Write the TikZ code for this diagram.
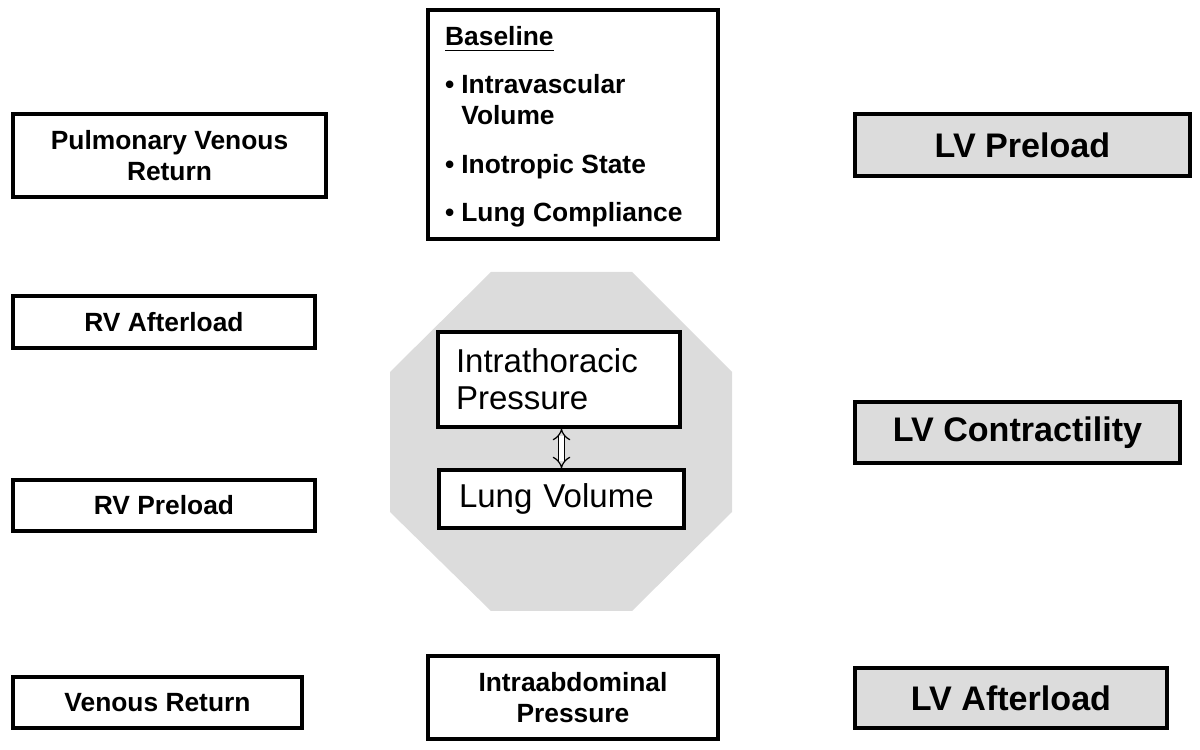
\documentclass[tikz,border=0pt]{standalone}
\usepackage{fontspec}
\setmainfont{Liberation Sans}
\usetikzlibrary{arrows.meta}

\definecolor{panelgray}{HTML}{DCDCDC}
\newcommand{\smallbold}{\fontsize{7.5}{8.8}\selectfont\bfseries}
\newcommand{\bigbold}{\fontsize{9.7}{11}\selectfont\bfseries}
\newcommand{\midtext}{\fontsize{9.4}{10.5}\selectfont}
\newcommand{\bdot}{\makebox[4.6pt][l]{\textbullet}}

\begin{document}
\begin{tikzpicture}[
    box/.style={draw, line width=0.9pt, fill=white, align=center, inner sep=0pt, font=\smallbold},
    lvbox/.style={draw, line width=0.9pt, fill=panelgray, inner sep=0pt, font=\bigbold},
    inbox/.style={draw, line width=0.9pt, fill=white, align=left, inner ysep=0pt, font=\midtext},
    dblarrow/.style={double, double distance=1.4pt, line width=0.35pt, {Implies[length=3.2pt]}-{Implies[length=3.2pt]}}
]
    \useasboundingbox (0,0) rectangle (12,7.5);

    % octagon behind the two middle boxes
    \fill[panelgray] (4.91,4.78) -- (6.32,4.78) -- (7.32,3.78) -- (7.32,2.38)
        -- (6.32,1.39) -- (4.91,1.39) -- (3.90,2.38) -- (3.90,3.78) -- cycle;

    % left column
    \node[box, minimum width=3.13cm, minimum height=0.83cm] (pvr) at (1.695,5.945) {Pulmonary Venous\\Return};
    \node[box, minimum width=3.02cm, minimum height=0.52cm] (rva) at (1.64,4.28) {RV Afterload};
    \node[box, minimum width=3.02cm, minimum height=0.51cm] (rvp) at (1.64,2.445) {RV Preload};
    \node[box, minimum width=2.89cm, minimum height=0.51cm] (vr) at (1.575,0.475) {Venous Return};

    % middle column
    \node[box, minimum width=2.90cm, minimum height=2.29cm] (base) at (5.73,6.255) {};
    \node[anchor=north west, align=left, inner sep=0pt, font=\smallbold] (basetext) at (4.445,7.245)
        {\underline{Baseline}\\[5pt]
         \bdot Intravascular\\
         \hspace*{4.6pt}Volume\\[5pt]
         \bdot Inotropic State\\[5pt]
         \bdot Lung Compliance};
    \node[inbox, text width=2.06cm, inner xsep=0.18cm, minimum height=0.95cm] (itp) at (5.59,3.705) {Intrathoracic\\Pressure};
    \node[inbox, text width=2.05cm, inner xsep=0.20cm, minimum height=0.58cm] (lv) at (5.615,2.51) {Lung Volume};
    \node[box, minimum width=2.90cm, minimum height=0.83cm] (iap) at (5.73,0.525) {Intraabdominal\\Pressure};

    \draw[dblarrow] (itp.south -| lv.north) -- (lv.north);

    % right column
    \node[lvbox, minimum width=3.35cm, minimum height=0.62cm] (lvp) at (10.225,6.05) {LV Preload};
    \node[lvbox, minimum width=3.25cm, minimum height=0.61cm] (lvc) at (10.175,3.175) {LV Contractility};
    \node[lvbox, minimum width=3.12cm, minimum height=0.60cm] (lva) at (10.11,0.52) {LV Afterload};
\end{tikzpicture}
\end{document}
